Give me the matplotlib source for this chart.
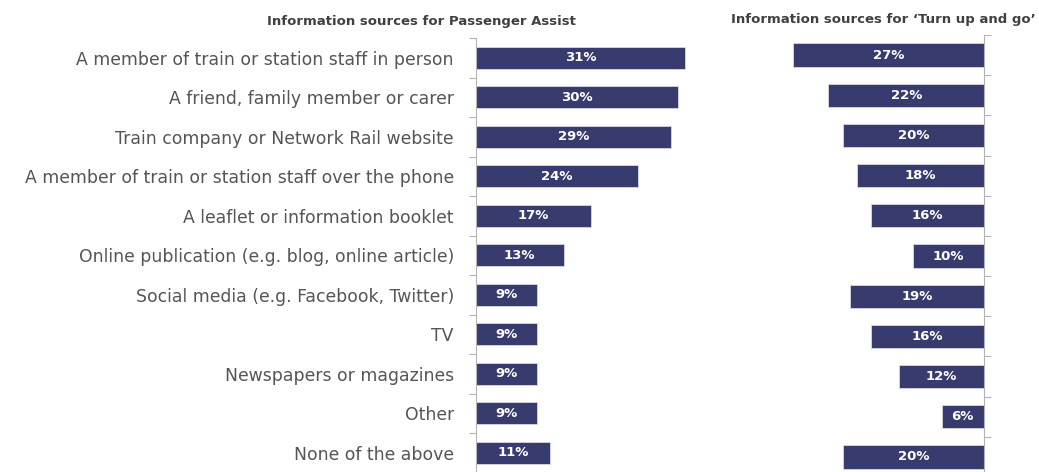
import numpy as np
import matplotlib.pyplot as plt

# survey answers, same category order for both panels
categories = [
    "A member of train or station staff in person",
    "A friend, family member or carer",
    "Train company or Network Rail website",
    "A member of train or station staff over the phone",
    "A leaflet or information booklet",
    "Online publication (e.g. blog, online article)",
    "Social media (e.g. Facebook, Twitter)",
    "TV",
    "Newspapers or magazines",
    "Other",
    "None of the above",
]
passenger_assist = [31, 30, 29, 24, 17, 13, 9, 9, 9, 9, 11]
turn_up_and_go = [27, 22, 20, 18, 16, 10, 19, 16, 12, 6, 20]

W, H = 1039, 472
bar_color = "#383b6e"
spine_color = "#b4b4b4"
y = np.arange(len(categories))

fig = plt.figure(figsize=(W / 100, H / 100), dpi=100)

# left panel: bars grow to the right from the axis
ax1 = fig.add_axes([476 / W, (H - 472.5) / H, 300 / W, 434.5 / H])
ax1.barh(y, passenger_assist, height=0.56, color=bar_color,
         edgecolor="#d8d8e0", linewidth=0.6)
ax1.set_xlim(0, 300 / 6.74)
for i, v in enumerate(passenger_assist):
    ax1.text(v / 2, i, f"{v}%", ha="center", va="center", color="white",
             fontsize=9.5, fontweight="bold")

# right panel: bars grow to the left from a right-hand axis
ax2 = fig.add_axes([700 / W, (H - 477) / H, 284 / W, 442 / H])
ax2.barh(y, turn_up_and_go, height=0.58, color=bar_color,
         edgecolor="#d8d8e0", linewidth=0.6)
ax2.set_xlim(284 / 7.07, 0)
for i, v in enumerate(turn_up_and_go):
    ax2.text(v / 2, i, f"{v}%", ha="center", va="center", color="white",
             fontsize=9.5, fontweight="bold")

for ax in (ax1, ax2):
    ax.set_ylim(len(categories) - 0.5, -0.5)
    ax.set_xticks([])
    ax.set_yticks(y)
    ax.set_yticks(np.arange(len(categories) + 1) - 0.5, minor=True)
    ax.tick_params(axis="y", which="major", length=0)
    ax.tick_params(axis="y", which="minor", length=5, width=0.8,
                   color=spine_color)
    for s in ax.spines.values():
        s.set_visible(False)
    ax.set_facecolor("none")

ax1.spines["left"].set_visible(True)
ax1.spines["left"].set_color(spine_color)
ax1.set_yticklabels(categories, fontsize=12.4, color="#555555")
ax1.tick_params(axis="y", which="major", pad=16)

ax2.spines["right"].set_visible(True)
ax2.spines["right"].set_color(spine_color)
ax2.yaxis.tick_right()
ax2.set_yticklabels([])
ax2.tick_params(axis="y", which="both", left=False, labelleft=False)

fig.text(421 / W, 1 - 22 / H, "Information sources for Passenger Assist",
         ha="center", va="center", fontsize=9.5, fontweight="bold",
         color="#404040")
fig.text(883 / W, 1 - 20 / H, "Information sources for \u2018Turn up and go\u2019",
         ha="center", va="center", fontsize=9.5, fontweight="bold",
         color="#404040")

fig.savefig("out.png", dpi=100)
